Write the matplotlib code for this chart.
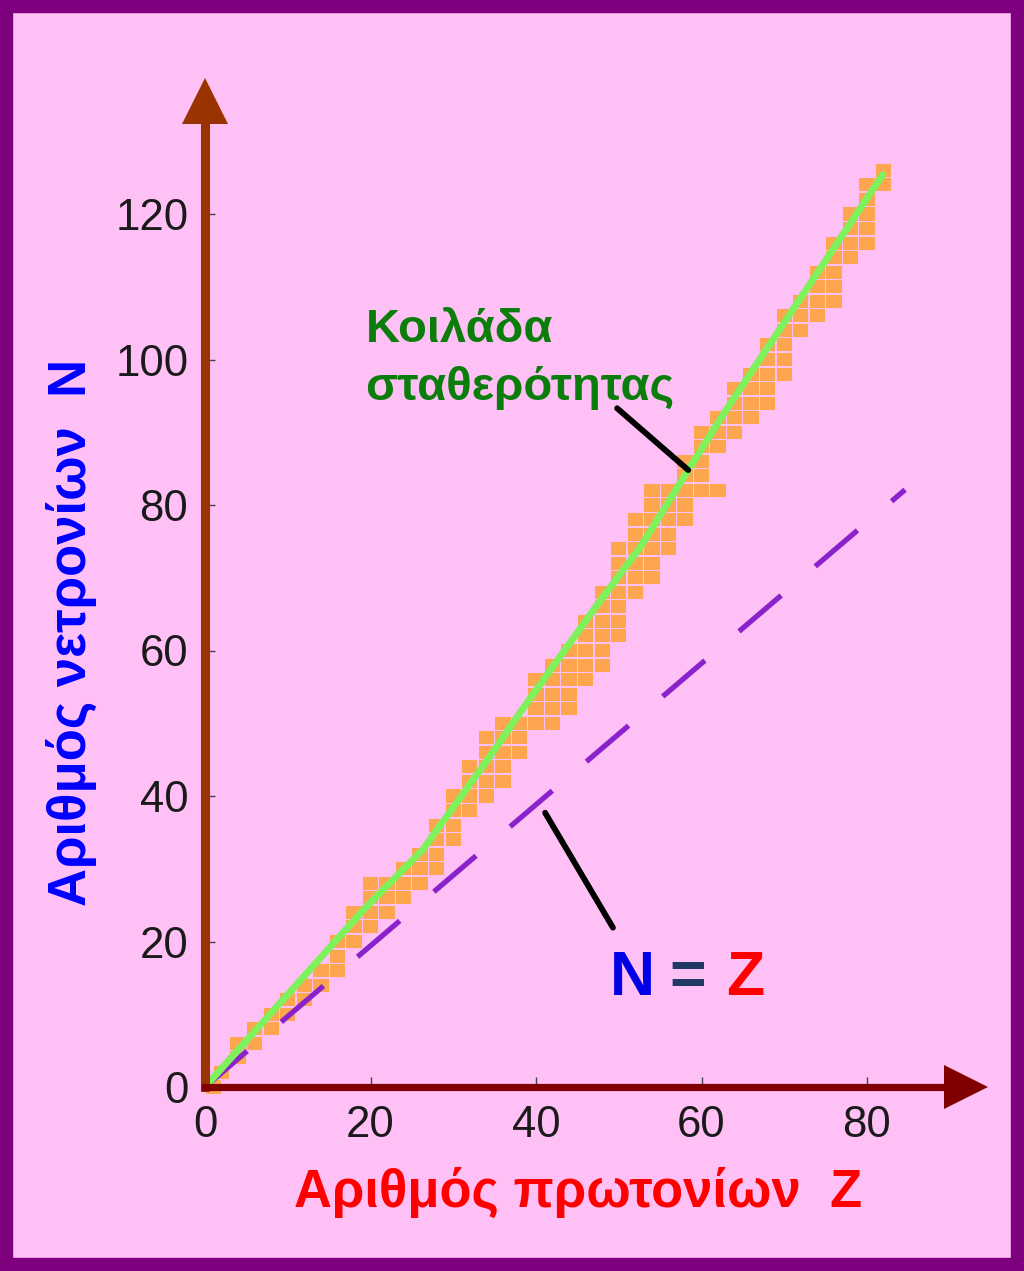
import matplotlib
matplotlib.use("Agg")
import matplotlib.pyplot as plt
from matplotlib.patches import Rectangle

# ---------------- data ----------------
x_ticks = [0, 20, 40, 60, 80]
y_ticks = [0, 20, 40, 60, 80, 100, 120]

# stable nuclides drawn as cells: one row per neutron number N, listing proton numbers Z
band_N = [0, 2, 4, 6, 8, 10, 12, 14, 16, 18, 20, 22, 24, 26, 28, 30,
          32, 34, 36, 38, 40, 42, 44, 46, 48, 50, 52, 54, 56, 58, 60, 62,
          64, 66, 68, 70, 72, 74, 76, 78, 80, 82, 84, 86, 88, 90, 92, 94,
          96, 98, 100, 102, 104, 106, 108, 110, 112, 114, 116, 118, 120, 122, 124, 126]
band_Z = [[1], [2], [4], [4, 6], [6, 8], [8, 10], [10, 12], [12, 14],
          [14, 16], [16], [16, 18], [18, 20], [18, 20, 22], [20, 22, 24], [20, 22, 24, 26], [24, 26, 28],
          [26, 28], [28, 30], [28, 30], [30, 32], [30, 32, 34], [32, 34, 36], [32, 34, 36], [34, 36, 38],
          [34, 36, 38], [36, 38, 40, 42], [40, 42, 44], [40, 42, 44], [40, 42, 44, 46], [42, 44, 46, 48], [44, 46, 48], [46, 48, 50],
          [46, 48, 50], [48, 50], [48, 50, 52], [50, 52, 54], [50, 52, 54], [50, 52, 54, 56], [52, 54, 56], [52, 54, 56, 58],
          [54, 56, 58], [54, 56, 58, 60, 62], [58, 60], [58, 60], [60, 62], [60, 62, 64], [62, 64, 66], [64, 66, 68],
          [64, 66, 68], [66, 68, 70], [68, 70], [68, 70], [70, 72], [70, 72, 74], [72, 74, 76], [74, 76],
          [74, 76], [76, 78], [76, 78, 80], [78, 80], [78, 80], [80], [80, 82], [82]]

# valley of stability (green curve)
valley_Z = [0, 19.1, 26.3, 34.4, 38.9, 47.1, 52.6, 58.4, 63.1, 81.9]
valley_N = [0, 24.3, 32.6, 45.4, 52.8, 65.8, 74.2, 84.8, 93.3, 125.4]

# N = Z reference line (dashed)
nz_Z = [0, 84.6]
nz_N = [0, 82.1]

# texts
xlabel_text = "Αριθμός πρωτονίων  Z"
ylabel_text = "Αριθμός νετρονίων  N"
valley_text = "Κοιλάδα\nσταθερότητας"

# ---------------- style ----------------
PINK = "#FFC0F6"
BORDER = "#7F007F"
ORANGE = "#FDA64F"
GREEN = "#7DF25C"
PURPLE = "#8A22CC"
YAXIS_C = "#993300"
XAXIS_C = "#800000"

W, H = 1024, 1271
fig = plt.figure(figsize=(W / 100, H / 100), dpi=100, facecolor=PINK)

# axes geometry: Z=0 at px 205, 8.275 px per unit; N=0 at py 1087, 7.275 px per unit
XMAX, YMAX = 92.0, 135.5
left = 205 / W
bottom = (H - 1087) / H
ax = fig.add_axes([left, bottom, XMAX * 8.275 / W, YMAX * 7.275 / H])
ax.set_facecolor("none")
ax.set_xlim(0, XMAX)
ax.set_ylim(0, YMAX)

# cells
cell_w, cell_h = 1.85, 1.8
for n, zs in zip(band_N, band_Z):
    ax.bar(zs, cell_h, bottom=n - cell_h / 2, width=cell_w, color=ORANGE,
           linewidth=0, clip_on=False, zorder=2)

# N = Z dashed line
ax.plot(nz_Z, nz_N, color=PURPLE, lw=3.8, dashes=(10.5, 8.5), dash_capstyle="butt",
        solid_capstyle="butt", zorder=3, clip_on=False)
# valley line
ax.plot(valley_Z, valley_N, color=GREEN, lw=5.0, solid_capstyle="round", zorder=4)

# spines as arrows
for s in ["top", "right"]:
    ax.spines[s].set_visible(False)
ax.spines["left"].set_color(YAXIS_C)
ax.spines["left"].set_linewidth(6.5)
ax.spines["bottom"].set_color(XAXIS_C)
ax.spines["bottom"].set_linewidth(5.2)
ax.spines["left"].set_zorder(5)
ax.spines["bottom"].set_zorder(5)
ax.plot(0, 1, marker="^", ms=32.5, color=YAXIS_C, mec=YAXIS_C, mew=0,
        transform=ax.transAxes, clip_on=False, zorder=6)
ax.plot(1, 0, marker=">", ms=31, color=XAXIS_C, mec=XAXIS_C, mew=0,
        transform=ax.transAxes, clip_on=False, zorder=6)

# ticks
ax.set_xticks(x_ticks)
ax.set_yticks(y_ticks)
ax.set_xticklabels([str(v) for v in x_ticks])
ax.set_yticklabels([str(v) for v in y_ticks])
tick_font = "Liberation Sans"
ax.tick_params(axis="both", direction="in", length=7, width=1.0, color="#444444",
               labelsize=31.5, labelcolor="#1a1a1a")
ax.tick_params(axis="x", pad=13)
ax.tick_params(axis="y", pad=12)
for lab in ax.get_xticklabels() + ax.get_yticklabels():
    lab.set_fontfamily(tick_font)

# axis labels
lab_font = "Liberation Sans"
ax.set_xlabel(xlabel_text, color="#FF0000", fontsize=36, fontweight="bold",
              fontfamily=lab_font, va="baseline", ha="center")
ax.xaxis.set_label_coords((578 - 205) / (XMAX * 8.275), (1087 - 1207) / (YMAX * 7.275))
ax.set_ylabel(ylabel_text, color="#0000FF", fontsize=36, fontweight="bold",
              fontfamily=lab_font, va="baseline", ha="center", rotation=90,
              rotation_mode="anchor")
ax.yaxis.set_label_coords((86 - 205) / (XMAX * 8.275), (1087 - 632) / (YMAX * 7.275))

# annotation texts (va=baseline anchors the last line)
t_valley = ax.text(19.4, (1087 - 400) / 7.275, valley_text, color="#0A7D0A",
                   fontsize=32, fontweight="bold", fontfamily=lab_font,
                   ha="left", va="baseline", linespacing=1.4, zorder=7)
ax.annotate("", xy=(58.4, 84.8), xytext=(49.8, 93.3),
            arrowprops=dict(arrowstyle="-", lw=4.2, color="black", shrinkA=0, shrinkB=0),
            zorder=7)
ax.annotate("", xy=(49.3, 21.9), xytext=(41.1, 37.7),
            arrowprops=dict(arrowstyle="-", lw=4.2, color="black", shrinkA=0, shrinkB=0),
            zorder=7)

nz_y = (1087 - 995) / 7.275
t_n = ax.text((610 - 205) / 8.275, nz_y, "N", color="#0000E6", fontsize=45,
              fontweight="bold", fontfamily="Liberation Sans", ha="left", va="baseline")
t_eq = ax.text((669 - 205) / 8.275, nz_y, "=", color="#1F3864", fontsize=45,
               fontweight="bold", fontfamily="Liberation Sans", ha="left", va="baseline")
t_z = ax.text((726 - 205) / 8.275, nz_y, "Z", color="#FF0000", fontsize=45,
              fontweight="bold", fontfamily="Liberation Sans", ha="left", va="baseline")

# fit label widths to the reference
fig.canvas.draw()
r = fig.canvas.get_renderer()
def fit(t, target, vertical=False):
    bb = t.get_window_extent(r)
    cur = bb.height if vertical else bb.width
    t.set_fontsize(t.get_fontsize() * target / cur)
fit(ax.xaxis.label, 569)
fit(ax.yaxis.label, 548, vertical=True)
fit(t_valley, 310)

# border frame
fig.patches.append(Rectangle((0, 0), 1, 1, transform=fig.transFigure, fill=False,
                             edgecolor=BORDER, linewidth=19, zorder=10))

fig.savefig("out.png", dpi=100, facecolor=PINK)
